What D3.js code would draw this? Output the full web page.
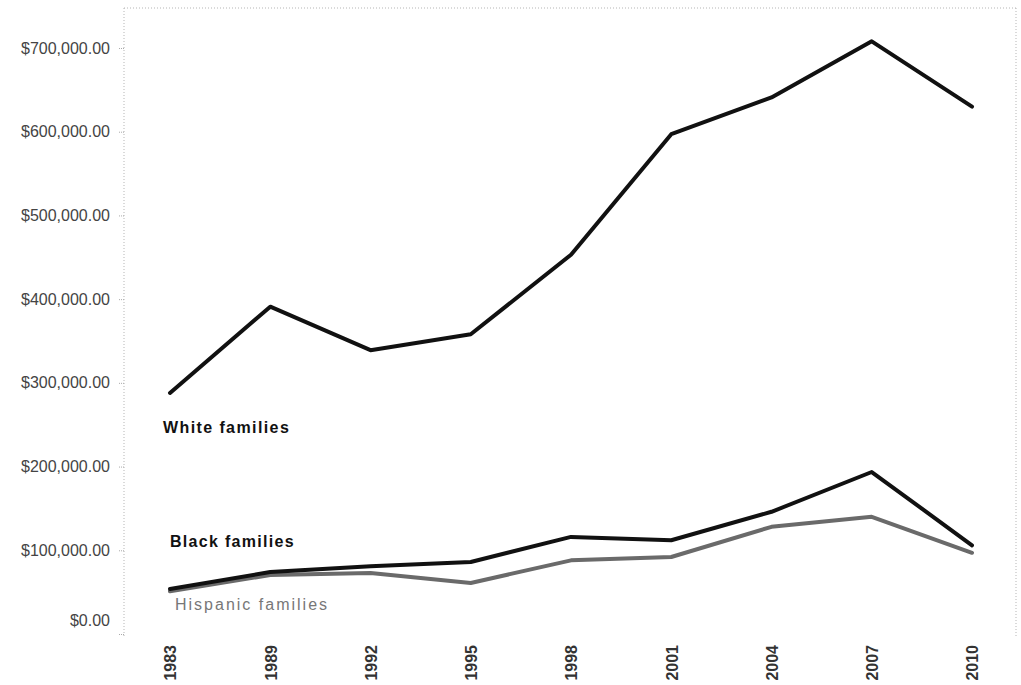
<!DOCTYPE html>
<html>
<head>
<meta charset="utf-8">
<script src="https://cdn.jsdelivr.net/npm/d3@7"></script>
<style>
  html, body { margin: 0; padding: 0; background: #fff; }
  svg { display: block; }
  text { font-family: "Liberation Sans", Arial, sans-serif; }
</style>
</head>
<body>
<svg id="chart" width="1021" height="685"></svg>
<script>
// Average family wealth by race/ethnicity, 1983–2010
const years = ["1983", "1989", "1992", "1995", "1998", "2001", "2004", "2007", "2010"];
const whiteFamilies    = [288000, 391000, 339000, 358000, 453000, 597000, 641000, 708000, 630000];
const blackFamilies    = [53800, 74000, 81000, 86000, 116000, 112000, 146000, 193500, 106000];
const hispanicFamilies = [51000, 70500, 73000, 61000, 88000, 92000, 128000, 140000, 97000];
const yTickValues = [0, 100000, 200000, 300000, 400000, 500000, 600000, 700000];

const svg = d3.select("#chart");
const W = 1021, H = 685;
const frame = { left: 124, right: 1016, top: 8, bottom: 638 };

const x = d3.scalePoint().domain(years).range([170, 972]);
const y = d3.scaleLinear().domain([0, 700000]).range([634, 48]);

const fmt = v => "$" + d3.format(",.2f")(v);

// plot frame: dotted top/right edges and the y axis line
const dotted = { stroke: "#b5b5b5", "stroke-width": 1, "stroke-dasharray": "1,2" };
function dottedLine(x1, y1, x2, y2) {
  const l = svg.append("line").attr("x1", x1).attr("y1", y1).attr("x2", x2).attr("y2", y2);
  Object.entries(dotted).forEach(([k, v]) => l.attr(k, v));
}
dottedLine(frame.left, frame.top, frame.right, frame.top);
dottedLine(frame.right, frame.top, frame.right, frame.bottom);

// y axis
const yAxis = d3.axisLeft(y).tickValues(yTickValues).tickFormat(fmt).tickSize(6).tickPadding(8);
const gy = svg.append("g").attr("transform", `translate(${frame.left},0)`).call(yAxis);
gy.select(".domain").remove();
gy.selectAll(".tick line").attr("stroke", "#aaa").attr("stroke-dasharray", "1,1");
gy.selectAll(".tick text")
  .attr("font-size", 16)
  .attr("fill", "#444")
  .style("font-family", "'Liberation Sans', Arial, sans-serif");
// the zero label sits a little above its gridline position
gy.selectAll(".tick").filter(d => d === 0).select("text").attr("dy", "-0.55em");
dottedLine(frame.left, frame.top, frame.left, frame.bottom);

// x axis labels, rotated
const xAxis = d3.axisBottom(x).tickSize(0).tickPadding(0);
const gx = svg.append("g").attr("transform", `translate(0,${frame.bottom})`).call(xAxis);
gx.select(".domain").remove();
gx.selectAll(".tick text")
  .attr("font-size", 16)
  .attr("font-weight", "bold")
  .attr("fill", "#333")
  .style("font-family", "'Liberation Sans', Arial, sans-serif")
  .attr("text-anchor", "end")
  .attr("transform", "rotate(-90)")
  .attr("x", -7)
  .attr("y", 0)
  .attr("dy", "0.36em");

// lines
const line = d3.line()
  .x((d, i) => x(years[i]))
  .y(d => y(d));

const series = [
  { name: "White families", values: whiteFamilies, color: "#111" },
  { name: "Hispanic families", values: hispanicFamilies, color: "#6a6a6a" },
  { name: "Black families", values: blackFamilies, color: "#111" }
];

svg.append("g").selectAll("path")
  .data(series)
  .join("path")
  .attr("d", d => line(d.values))
  .attr("fill", "none")
  .attr("stroke", d => d.color)
  .attr("stroke-width", 4)
  .attr("stroke-linejoin", "round")
  .attr("stroke-linecap", "round");

// series labels
const labels = [
  { text: "White families", x: 163, y: 433, weight: "bold", color: "#111", spacing: 1.4 },
  { text: "Black families", x: 170, y: 547, weight: "bold", color: "#111", spacing: 1.3 },
  { text: "Hispanic families", x: 175, y: 610, weight: "normal", color: "#777", spacing: 2 }
];
svg.append("g").selectAll("text")
  .data(labels)
  .join("text")
  .attr("x", d => d.x)
  .attr("y", d => d.y)
  .attr("font-size", 16)
  .attr("font-weight", d => d.weight)
  .attr("fill", d => d.color)
  .attr("letter-spacing", d => d.spacing)
  .text(d => d.text);
</script>
</body>
</html>
